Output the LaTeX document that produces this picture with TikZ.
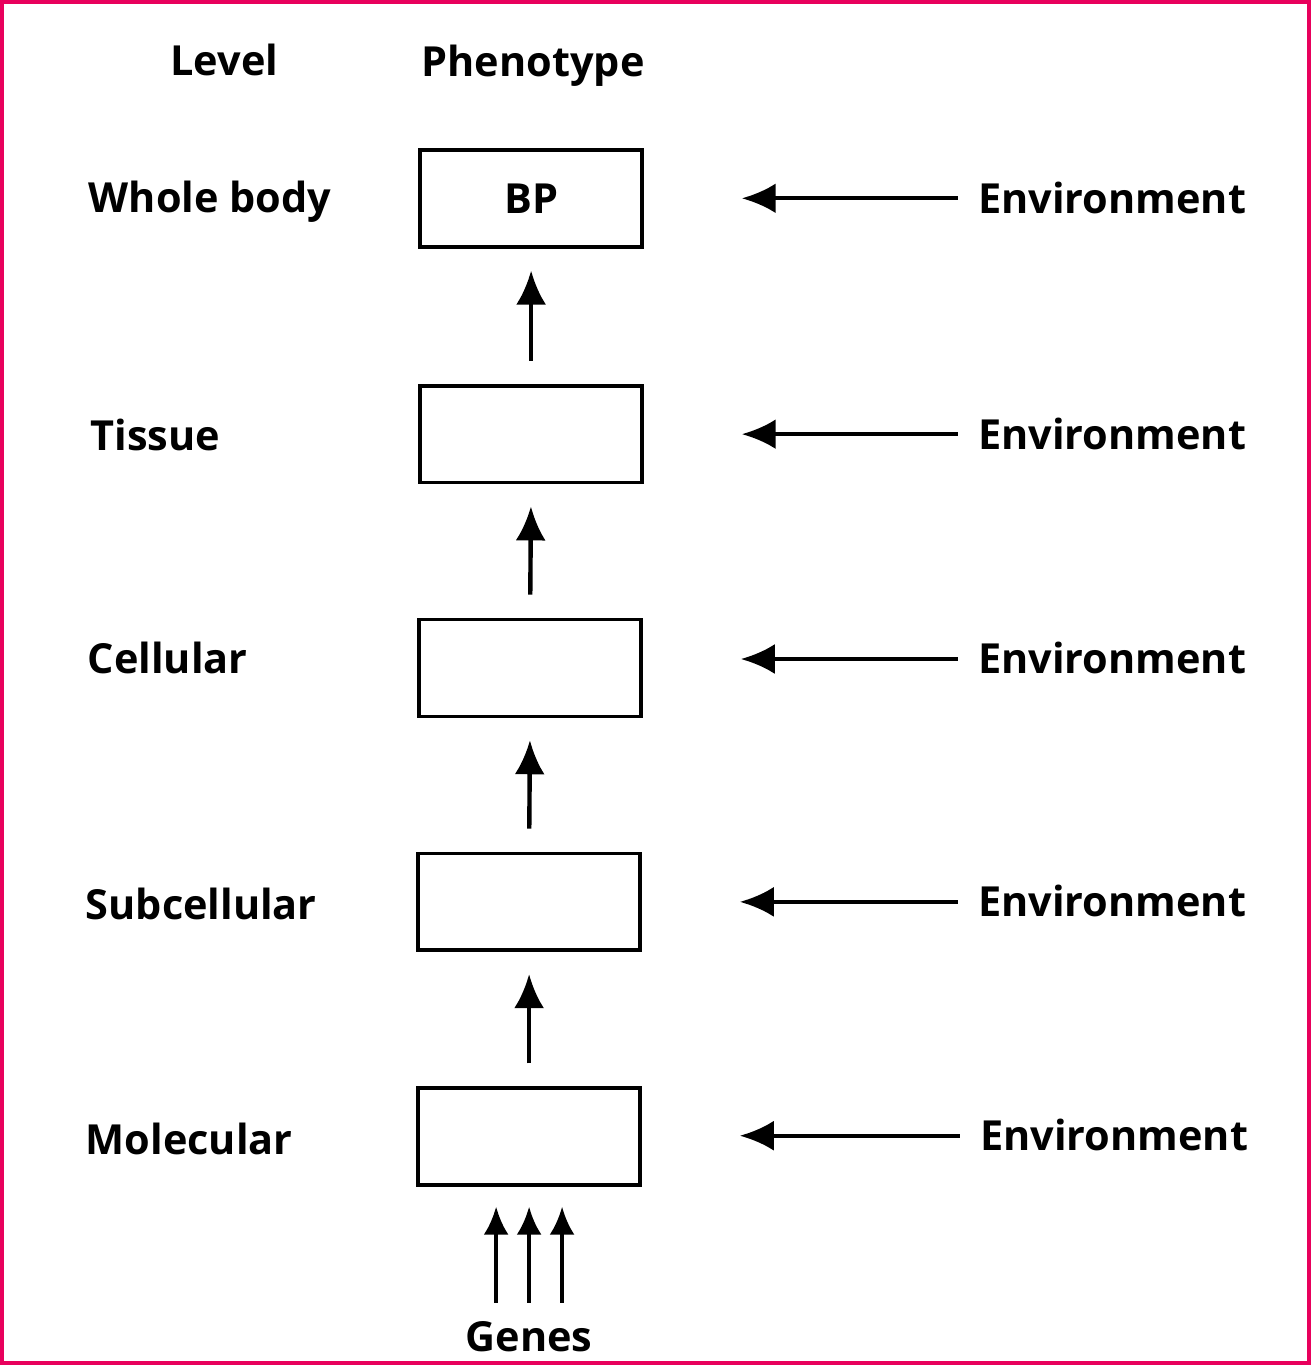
\documentclass[tikz,border=0pt]{standalone}
\usepackage{fontspec}
\setmainfont{Open Sans}
\usetikzlibrary{arrows.meta}
\definecolor{framepink}{RGB}{232,0,92}
\begin{document}
\begin{tikzpicture}[x=0.02cm,y=-0.02cm,
    lbl/.style={font=\bfseries\fontsize{23.6}{28}\selectfont, inner sep=0pt, text height=17pt, text depth=0pt},
    phbox/.style={draw, line width=2.1pt, minimum width=4.44cm, minimum height=1.94cm, inner sep=0pt},
    arr/.style={-{Latex[length=0.68cm,width=0.6cm]}, line width=2.5pt},
    garr/.style={-{Latex[length=0.56cm,width=0.5cm]}, line width=2.3pt}]
  \draw[framepink, line width=2.2pt] (1.5,1.5) rectangle (1309.5,1363.5);
  % headings
  \node[lbl] (hlevel) at (224,60) {Level};
  \node[lbl] (hpheno) at (533,61) {Phenotype};
  % phenotype boxes
  \node[phbox] (b1) at (531,198) {};
  \node[lbl] (bp) at (b1) {BP};
  \node[phbox] (b2) at (531,434) {};
  \node[phbox] (b3) at (530,668) {};
  \node[phbox] (b4) at (529,902) {};
  \node[phbox] (b5) at (529,1137) {};
  % levels
  \node[lbl, anchor=west] (l1) at (88,197) {Whole body};
  \node[lbl, anchor=west] (l2) at (90,435) {Tissue};
  \node[lbl, anchor=west] (l3) at (87,659) {Cellular};
  \node[lbl, anchor=west] (l4) at (85,905) {Subcellular};
  \node[lbl, anchor=west] (l5) at (85,1140) {Molecular};
  % environment
  \node[lbl, anchor=west] (e1) at (978,198) {Environment};
  \node[lbl, anchor=west] (e2) at (978,434) {Environment};
  \node[lbl, anchor=west] (e3) at (978,659) {Environment};
  \node[lbl, anchor=west] (e4) at (978,902) {Environment};
  \node[lbl, anchor=west] (e5) at (980,1136) {Environment};
  \foreach \i in {1,...,5}
    \draw[arr, shorten <=0.4cm, shorten >=1.96cm] (e\i.west) -- (e\i.west -| b\i.east);
  % upward arrows
  \draw[arr, shorten <=0.46cm, shorten >=0.44cm] (b2.north) -- (b1.south);
  \draw[arr, shorten <=0.46cm, shorten >=0.44cm] (b3.north) -- (b2.south);
  \draw[arr, shorten <=0.46cm, shorten >=0.44cm] (b4.north) -- (b3.south);
  \draw[arr, shorten <=0.46cm, shorten >=0.44cm] (b5.north) -- (b4.south);
  % genes
  \node[lbl] (genes) at (529,1337) {Genes};
  \coordinate (g1) at (496,1303);
  \coordinate (g2) at (529,1303);
  \coordinate (g3) at (562,1303);
  \draw[garr] (g1) -- (496,1207);
  \draw[garr] (g2) -- (529,1207);
  \draw[garr] (g3) -- (562,1207);
\end{tikzpicture}
\end{document}
